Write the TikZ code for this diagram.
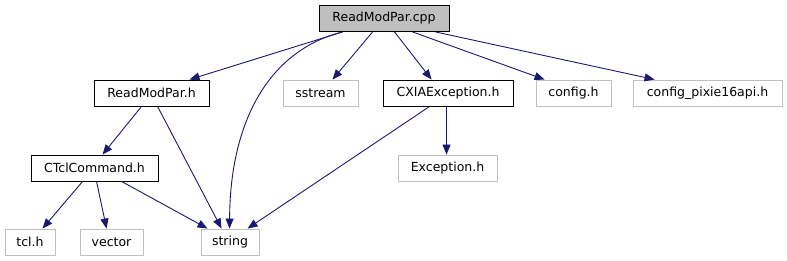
\documentclass[tikz,border=0pt]{standalone}
\usepackage{fontspec}
\setmainfont{DejaVu Sans}
\usetikzlibrary{arrows.meta}
\definecolor{edgecol}{HTML}{191970}
\definecolor{grayb}{HTML}{BFBFBF}
\tikzset{
  box/.style={draw=black, line width=0.9pt, fill=white, minimum height=26pt, inner sep=0pt, font=\fontsize{12.5}{15}\selectfont, text=black},
  extbox/.style={box, draw=grayb},
  rootbox/.style={box, fill=grayb},
  edge/.style={draw=edgecol, line width=0.9pt, -{Triangle[length=10pt,width=8pt]}}
}
\begin{document}
\begin{tikzpicture}[x=1pt,y=-1pt]
\useasboundingbox (0,0) rectangle (787,261);
\node[rootbox, minimum width=130pt] (cpp) at (384,18.5) {ReadModPar.cpp};
\node[box, minimum width=115pt] (rmh) at (151.5,93) {ReadModPar.h};
\node[extbox, minimum width=75pt] (sstream) at (320.5,93) {sstream};
\node[box, minimum width=130pt] (cxia) at (448,93) {CXIAException.h};
\node[extbox, minimum width=75pt] (config) at (573.5,93) {config.h};
\node[extbox, minimum width=149pt] (pixie) at (707.5,93) {config\_pixie16api.h};
\node[box, minimum width=127pt] (ctcl) at (94.5,168) {CTclCommand.h};
\node[extbox, minimum width=99pt] (exc) at (447.5,168) {Exception.h};
\node[extbox, minimum width=50pt] (tcl) at (30,242) {tcl.h};
\node[extbox, minimum width=63pt] (vector) at (111.5,242) {vector};
\node[extbox, minimum width=58pt] (string) at (230,242) {string};

\draw[edge] ([xshift=24pt]cpp.south west) -- ([xshift=96pt]rmh.north west);
\draw[edge] ([xshift=24pt]cpp.south west) .. controls (270,50) and (230,120) .. ([xshift=29pt]string.north west);
\draw[edge] ([xshift=54pt]cpp.south west) -- ([xshift=50pt]sstream.north west);
\draw[edge] ([xshift=76pt]cpp.south west) -- ([xshift=49pt]cxia.north west);
\draw[edge] ([xshift=94pt]cpp.south west) -- ([xshift=9pt]config.north west);
\draw[edge] ([xshift=117pt]cpp.south west) -- ([xshift=22pt]pixie.north west);
\draw[edge] ([xshift=48pt]rmh.south west) -- ([xshift=72pt]ctcl.north west);
\draw[edge] ([xshift=64pt]rmh.south west) -- ([xshift=21pt]string.north west);
\draw[edge] ([xshift=64pt]cxia.south west) -- ([xshift=49pt]exc.north west);
\draw[edge] ([xshift=47pt]cxia.south west) -- ([xshift=47pt]string.north west);
\draw[edge] ([xshift=52pt]ctcl.south west) -- ([xshift=38pt]tcl.north west);
\draw[edge] ([xshift=66pt]ctcl.south west) -- ([xshift=27pt]vector.north west);
\draw[edge] ([xshift=91pt]ctcl.south west) -- ([xshift=7pt]string.north west);
\end{tikzpicture}
\end{document}
